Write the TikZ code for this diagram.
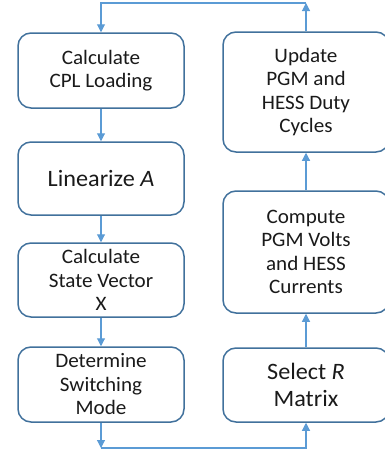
\documentclass[tikz,border=0pt]{standalone}
\usepackage{fontspec}
\setmainfont{Carlito}[FakeStretch=1.03]
\usetikzlibrary{arrows.meta}
\definecolor{boxc}{HTML}{41719C}
\definecolor{arrc}{HTML}{5B9BD5}
\definecolor{txtc}{HTML}{1A1A1A}
\begin{document}
\begin{tikzpicture}[x=1pt,y=-1pt,
 box/.style={draw=boxc, line width=1.5pt, rounded corners=13pt, fill=white, text=txtc, align=center, inner sep=0pt, minimum width=166pt, font=\fontsize{20.5}{23.5}\selectfont},
 bigtext/.style={font=\fontsize{23.5}{27.7}\selectfont},
 arr/.style={draw=arrc, line width=1.1pt, -{Triangle[width=8pt,length=8pt]}}]
\useasboundingbox (0,0) rectangle (385,450);
\clip (0,0) rectangle (385,450);
% left column
\node[box, minimum height=75pt] (b1) at (101,70.5) {Calculate\\CPL Loading};
\node[box, bigtext, minimum height=73pt] (b2) at (101,178.5) {Linearize \textit{A}};
\node[box, minimum height=74pt] (b3) at (101,280) {Calculate\\State Vector\\X};
\node[box, minimum height=75pt] (b4) at (101,384.5) {Determine\\Switching\\Mode};
% right column
\node[box, minimum height=120pt] (r1) at (306,92) {Update\\PGM and\\HESS Duty\\Cycles};
\node[box, minimum height=122pt] (r2) at (306,252) {Compute\\PGM Volts\\and HESS\\Currents};
\node[box, bigtext, minimum height=74pt] (r3) at (306,385) {Select \textit{R}\\Matrix};
% loop corners
\coordinate (tl) at (101,3);
\coordinate (tr) at (306,3);
\coordinate (bl) at (101,448);
\coordinate (br) at (306,448);
% connectors
\draw[arr] (b1) -- (b2);
\draw[arr] (b2) -- (b3);
\draw[arr] (b3) -- (b4);
\draw[arr] (b4) -- (bl);
\draw[arr] (bl) -- (br) -- (r3);
\draw[arr] (r3) -- (r2);
\draw[arr] (r2) -- (r1);
\draw[arr] (r1) -- (tr);
\draw[arr] (tr) -- (tl) -- (b1);
\end{tikzpicture}
\end{document}
